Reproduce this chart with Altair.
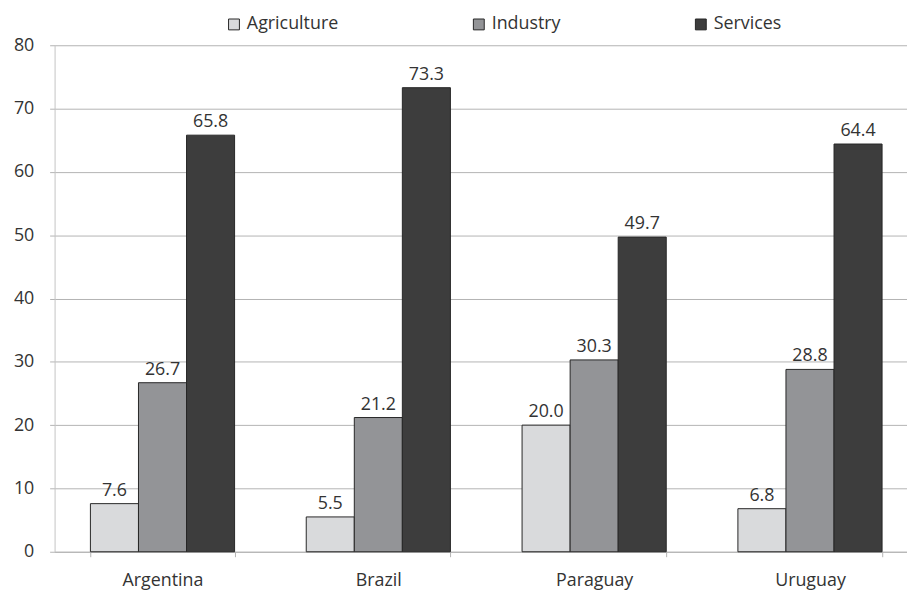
import altair as alt
import pandas as pd

countries = ["Argentina", "Brazil", "Paraguay", "Uruguay"]
sectors = ["Agriculture", "Industry", "Services"]
agriculture = [7.6, 5.5, 20.0, 6.8]
industry = [26.7, 21.2, 30.3, 28.8]
services = [65.8, 73.3, 49.7, 64.4]
colors = ["#d9dadc", "#939497", "#3d3d3d"]

rows = []
for i, c in enumerate(countries):
    for s, vals in zip(sectors, [agriculture, industry, services]):
        rows.append({"country": c, "sector": s, "value": vals[i]})
df = pd.DataFrame(rows)

FONT = "Open Sans"
FS = 18

x = alt.X("country:N", sort=countries, title=None,
          scale=alt.Scale(range=[0, 871], paddingInner=0.332, paddingOuter=0.166),
          axis=alt.Axis(labelAngle=0, labelFontSize=FS, labelColor="#333333", labelFont=FONT,
                        tickBand="extent", ticks=True, tickSize=5, tickColor="#b3b3b3",
                        domainColor="#b3b3b3", labelPadding=15, grid=False))
xo = alt.XOffset("sector:N", sort=sectors)

bars = alt.Chart(df).mark_bar(stroke="#262626", strokeWidth=1).encode(
    x=x,
    xOffset=xo,
    y=alt.Y("value:Q", title=None,
            scale=alt.Scale(domain=[0, 80], nice=False),
            axis=alt.Axis(values=list(range(0, 81, 10)), labelFontSize=FS, labelColor="#333333",
                          labelFont=FONT, labelPadding=16, tickSize=5, tickColor="#b3b3b3",
                          gridColor="#b3b3b3", domainColor="#c4c4c4")),
    color=alt.Color("sector:N", sort=sectors, title=None,
                    scale=alt.Scale(domain=sectors, range=colors),
                    legend=alt.Legend(orient="none", legendX=172, legendY=-30, direction="horizontal",
                                      symbolType="square", symbolSize=120, symbolStrokeColor="#262626",
                                      symbolStrokeWidth=1, labelFontSize=FS, labelFont=FONT,
                                      labelColor="#333333", columnPadding=132, labelOffset=4)),
)

labels = alt.Chart(df).mark_text(baseline="bottom", dy=-4, fontSize=FS, font=FONT, color="#333333").encode(
    x=alt.X("country:N", sort=countries),
    xOffset=xo,
    y=alt.Y("value:Q"),
    text=alt.Text("value:Q", format=".1f"),
)

chart = alt.layer(bars, labels).properties(
    width=860, height=511,
    autosize=alt.AutoSizeParams(type="none"),
    padding={"left": 47, "top": 35, "right": 0, "bottom": 36},
).configure_view(stroke=None).configure_axis(gridWidth=1)

chart.save("out.html", embed_options={"renderer": "svg", "actions": False})
